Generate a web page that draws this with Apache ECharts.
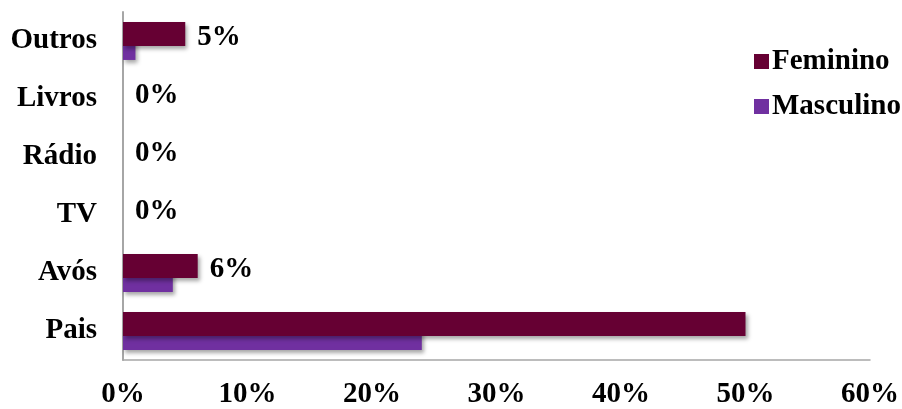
<!DOCTYPE html>
<html>
<head>
<meta charset="utf-8">
<script src="https://cdn.jsdelivr.net/npm/echarts@6/dist/echarts.min.js"></script>
<style>
  html, body { margin: 0; padding: 0; background: #fff; }
  #chart { width: 902px; height: 409px; }
</style>
</head>
<body>
<div id="chart"></div>
<script>
// Categories listed bottom to top
const categories = ['Pais', 'Avós', 'TV', 'Rádio', 'Livros', 'Outros'];
const feminino = [50, 6, 0, 0, 0, 5];
const masculino = [24, 4, 0, 0, 0, 1];
// Value labels are shown for every Feminino bar except Pais
const femLabelShown = [false, true, true, true, true, true];
const xTicks = [0, 10, 20, 30, 40, 50, 60];

const FONT = 'Liberation Serif';
const shadow = {
  shadowColor: 'rgba(0,0,0,0.35)',
  shadowBlur: 4,
  shadowOffsetX: 2,
  shadowOffsetY: 3
};

const chart = echarts.init(document.getElementById('chart'), null, { renderer: 'canvas' });

chart.setOption({
  animation: false,
  textStyle: { fontFamily: FONT, fontWeight: 'bold', color: '#000' },
  grid: { left: 123, right: 30, top: 12, bottom: 49, containLabel: false },
  legend: {
    data: ['Feminino', 'Masculino'],
    orient: 'vertical',
    left: 749,
    top: 42,
    itemWidth: 15,
    itemHeight: 15,
    itemGap: 16,
    icon: 'rect',
    textStyle: { fontFamily: FONT, fontWeight: 'bold', fontSize: 29, color: '#000', padding: [0, 0, 0, -2] }
  },
  xAxis: {
    type: 'value',
    min: xTicks[0],
    max: xTicks[xTicks.length - 1],
    interval: 10,
    splitLine: { show: false },
    axisLine: { show: true, lineStyle: { color: '#a6a6a6', width: 1.5 } },
    axisTick: { show: false },
    axisLabel: {
      margin: 20,
      fontFamily: FONT, fontWeight: 'bold', fontSize: 29, color: '#000',
      formatter: v => v + '%'
    }
  },
  yAxis: {
    type: 'category',
    data: categories,
    axisLine: { show: true, lineStyle: { color: '#a6a6a6', width: 2 } },
    axisTick: { show: false },
    axisLabel: {
      margin: 26,
      fontFamily: FONT, fontWeight: 'bold', fontSize: 29, color: '#000'
    }
  },
  series: [
    {
      name: 'Feminino',
      type: 'bar',
      z: 3,
      data: feminino.map((v, i) => ({ value: v, label: { show: femLabelShown[i] } })),
      barWidth: 24,
      barGap: '-42%',
      itemStyle: Object.assign({ color: '#660033' }, shadow),
      label: {
        position: 'right',
        distance: 12,
        offset: [0, 3],
        fontFamily: FONT, fontWeight: 'bold', fontSize: 29, color: '#000',
        formatter: p => p.value + '%'
      }
    },
    {
      name: 'Masculino',
      type: 'bar',
      z: 2,
      data: masculino,
      barWidth: 24,
      barGap: '-42%',
      itemStyle: Object.assign({ color: '#7030a0' }, shadow)
    }
  ]
});
</script>
</body>
</html>
